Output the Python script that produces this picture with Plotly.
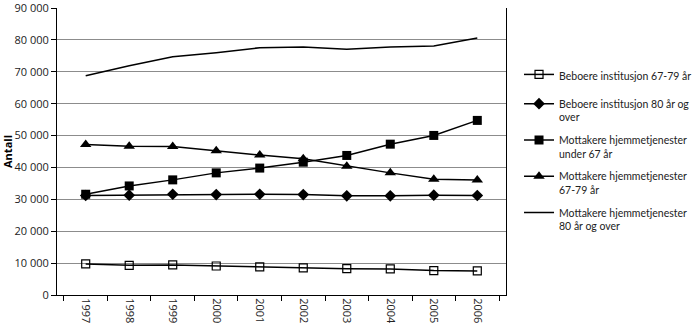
import plotly.graph_objects as go

years = ["1997", "1998", "1999", "2000", "2001", "2002", "2003", "2004", "2005", "2006"]

beboere_67_79 = [9730, 9320, 9430, 9100, 8800, 8480, 8270, 8170, 7650, 7550]
beboere_80 = [31200, 31300, 31600, 31500, 31600, 31500, 31100, 31100, 31300, 31200]
hjemme_under_67 = [31600, 34200, 36100, 38300, 39800, 41650, 43760, 47300, 50040, 54750]
hjemme_67_79 = [47210, 46680, 46600, 45200, 43900, 42700, 40400, 38300, 36320, 36100]
hjemme_80 = [68750, 71900, 74700, 76000, 77540, 77760, 77030, 77800, 78070, 80580]

y_ticks = list(range(0, 90001, 10000))
y_tick_text = ["0" if v == 0 else f"{v // 1000} 000" for v in y_ticks]

FONT = "Open Sans"
LEGEND_FONT = dict(family="Lato", size=10.5, color="#222")

series = [
    ("Beboere institusjon 67-79 år", beboere_67_79,
     dict(symbol="square-open", size=8, color="black", line=dict(width=1.2, color="black")),
     "legend2"),
    ("Beboere institusjon 80 år og<br>over", beboere_80,
     dict(symbol="diamond", size=9, color="black"), "legend"),
    ("Mottakere hjemmetjenester<br>under 67 år", hjemme_under_67,
     dict(symbol="square", size=9, color="black"), "legend"),
    ("Mottakere hjemmetjenester<br>67-79 år", hjemme_67_79,
     dict(symbol="triangle-up", size=10, color="black"), "legend"),
    ("Mottakere hjemmetjenester<br>80 år og over", hjemme_80, None, "legend"),
]

fig = go.Figure()
for i, (name, vals, marker, leg) in enumerate(series):
    fig.add_trace(go.Scatter(
        x=years, y=vals, name=name,
        mode="lines+markers" if marker else "lines",
        marker=marker if marker else None,
        line=dict(color="black", width=1.5),
        legendgroup=f"g{i}", legend=leg,
    ))

fig.update_layout(
    width=700, height=328,
    margin=dict(l=57, r=194, t=8, b=33, autoexpand=False),
    paper_bgcolor="white", plot_bgcolor="white",
    font=dict(family=FONT, size=11, color="#222"),
    showlegend=True,
    # legends sit just right of the plot area (x in paper units)
    legend=dict(
        x=1.029, xanchor="left", y=0.713, yanchor="top",
        font=LEGEND_FONT,
        traceorder="grouped", tracegroupgap=6, valign="top",
        bgcolor="rgba(0,0,0,0)",
    ),
    legend2=dict(
        x=1.029, xanchor="left", y=0.815, yanchor="top",
        font=LEGEND_FONT, valign="top",
        bgcolor="rgba(0,0,0,0)",
    ),
    xaxis=dict(
        type="category", tickangle=90, ticks="outside", tickson="boundaries",
        ticklen=5, tickcolor="black", showline=True, linecolor="black", linewidth=1,
        showgrid=False, tickfont=dict(size=11), automargin=False,
    ),
    yaxis=dict(
        range=[0, 90000], tickvals=y_ticks, ticktext=y_tick_text,
        ticks="outside", ticklen=5, tickcolor="black", ticklabeloverflow="allow",
        showline=True, linecolor="black", linewidth=1, mirror=True,
        showgrid=True, gridcolor="#8c8c8c", gridwidth=1, zeroline=False,
        automargin=False,
        title=dict(text="<b>Antall</b>", font=dict(size=11, color="black"), standoff=2),
    ),
)

fig.write_html("out.html")
